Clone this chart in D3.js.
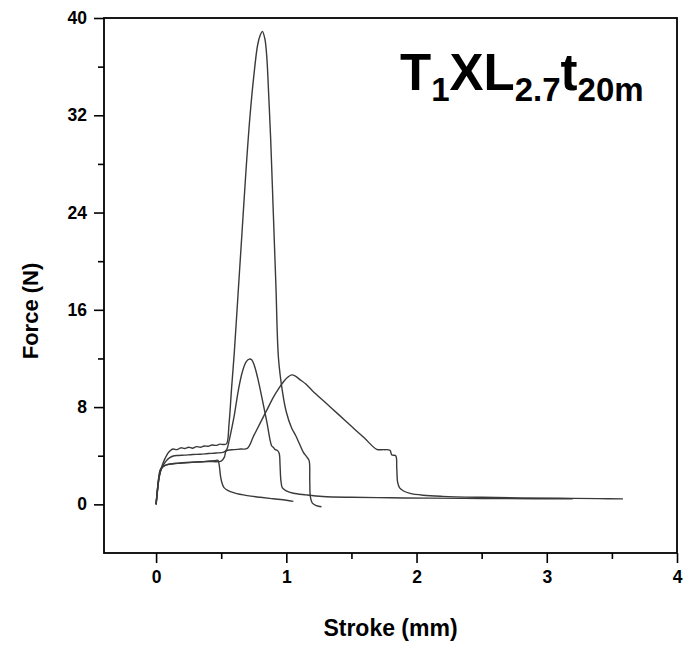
<!DOCTYPE html>
<html>
<head>
<meta charset="utf-8">
<script src="https://cdn.jsdelivr.net/npm/d3@7"></script>
<style>
  html, body { margin: 0; padding: 0; background: #fff; }
  svg { display: block; }
  text { font-family: "Liberation Sans", Arial, sans-serif; font-weight: bold; fill: #000; }
</style>
</head>
<body>
<svg id="chart" width="685" height="649"></svg>
<script>
// ---- data ----
const xMajorTicks = [0, 1, 2, 3, 4];
const xMinorTicks = [0.5, 1.5, 2.5, 3.5];
const yMajorTicks = [0, 8, 16, 24, 32, 40];
const yMinorTicks = [4, 12, 20, 28, 36];
const xLabel = "Stroke (mm)";
const yLabel = "Force (N)";

// curve A: plateau then early drop
const strokeA = [0, 0.01, 0.02, 0.03, 0.045, 0.06, 0.08, 0.1, 0.15, 0.2, 0.25, 0.3, 0.35, 0.4, 0.45, 0.475, 0.485, 0.495, 0.505, 0.52, 0.55, 0.6, 0.7, 0.8, 0.9, 1.0, 1.054];
const forceA  = [0, 1.2, 2.2, 2.8, 3.05, 3.15, 3.25, 3.3, 3.35, 3.4, 3.43, 3.47, 3.5, 3.55, 3.6, 3.62, 3.2, 2.3, 1.8, 1.4, 1.15, 0.95, 0.72, 0.58, 0.46, 0.34, 0.25];

// curve B: tall peak (~39 N)
const strokeB = [0, 0.01, 0.02, 0.035, 0.05, 0.07, 0.09, 0.107, 0.13, 0.16, 0.19, 0.22, 0.25, 0.28, 0.31, 0.34, 0.37, 0.40, 0.43, 0.46, 0.49, 0.52, 0.542, 0.56, 0.58, 0.6, 0.63, 0.66, 0.69, 0.72, 0.75, 0.78, 0.8, 0.816, 0.835, 0.85, 0.865, 0.88, 0.9, 0.92, 0.94, 0.97, 1.0, 1.04, 1.07, 1.1, 1.13, 1.157, 1.175, 1.18, 1.185, 1.2, 1.23, 1.27];
const forceB  = [0, 1.0, 2.0, 2.8, 3.3, 3.8, 4.2, 4.4, 4.55, 4.5, 4.65, 4.6, 4.7, 4.62, 4.75, 4.7, 4.8, 4.78, 4.88, 4.85, 4.95, 4.92, 5.0, 6.6, 9.6, 12.4, 17.4, 22.4, 27.4, 31.8, 35.2, 37.8, 38.6, 38.9, 38.3, 36.8, 33.6, 30.0, 24.0, 18.0, 12.0, 9.3, 7.6, 6.3, 5.7, 5.0, 4.3, 3.9, 3.6, 2.0, 0.6, 0.1, -0.1, -0.2];

// curve C: medium peak (~12 N)
const strokeC = [0, 0.012, 0.025, 0.04, 0.06, 0.08, 0.1, 0.132, 0.17, 0.22, 0.28, 0.34, 0.4, 0.46, 0.52, 0.542, 0.56, 0.58, 0.6, 0.632, 0.66, 0.69, 0.715, 0.734, 0.755, 0.78, 0.811, 0.85, 0.888, 0.9, 0.915, 0.93, 0.945, 0.952, 0.958, 0.97, 1.0, 1.054, 1.15, 1.28, 1.5, 1.8, 2.1, 2.5, 2.9, 3.2];
const forceC  = [0, 1.3, 2.3, 2.9, 3.3, 3.6, 3.8, 3.98, 4.02, 4.05, 4.1, 4.12, 4.18, 4.22, 4.3, 4.5, 5.2, 6.2, 7.3, 9.4, 10.8, 11.7, 11.95, 11.9, 11.4, 10.4, 8.86, 6.8, 4.8, 4.7, 4.5, 4.45, 4.2, 3.2, 2.0, 1.35, 1.1, 0.91, 0.78, 0.65, 0.58, 0.54, 0.51, 0.48, 0.46, 0.45];

// curve D: broad peak (~10.7 N) and long tail
const strokeD = [0, 0.012, 0.025, 0.04, 0.06, 0.08, 0.1, 0.15, 0.2, 0.3, 0.4, 0.5, 0.525, 0.535, 0.55, 0.6, 0.65, 0.7, 0.75, 0.8, 0.86, 0.9, 0.94, 0.98, 1.01, 1.04, 1.07, 1.1, 1.15, 1.2, 1.3, 1.4, 1.5, 1.6, 1.694, 1.75, 1.796, 1.81, 1.84, 1.848, 1.855, 1.87, 1.9, 1.95, 2.05, 2.2, 2.5, 2.8, 3.1, 3.4, 3.585];
const forceD  = [0, 1.4, 2.4, 2.9, 3.15, 3.25, 3.3, 3.38, 3.42, 3.48, 3.52, 3.56, 3.9, 4.35, 4.45, 4.5, 4.55, 4.6, 5.65, 6.7, 7.96, 8.8, 9.5, 10.1, 10.45, 10.65, 10.55, 10.3, 9.9, 9.35, 8.37, 7.4, 6.42, 5.45, 4.53, 4.5, 4.45, 4.06, 4.0, 3.0, 1.8, 1.35, 1.1, 0.9, 0.75, 0.66, 0.58, 0.53, 0.5, 0.47, 0.45];

const curves = [[strokeA, forceA], [strokeB, forceB], [strokeC, forceC], [strokeD, forceD]];

// ---- drawing ----
const svg = d3.select("#chart");
const x = d3.scaleLinear().domain([-0.4, 4]).range([104, 677]);
const y = d3.scaleLinear().domain([-4, 40]).range([553, 18]);

const line = d3.line().x(p => x(p[0])).y(p => y(p[1])).curve(d3.curveCatmullRom.alpha(0.5));

svg.append("g").selectAll("path")
  .data(curves.map(([s, f]) => s.map((v, i) => [v, f[i]])))
  .join("path")
  .attr("d", line)
  .attr("fill", "none")
  .attr("stroke", "#3a3a3a")
  .attr("stroke-width", 1.4)
  .attr("stroke-linejoin", "round");

// axes
const fmt = d3.format("d");
const bottomMajor = svg.append("g").attr("transform", `translate(0,${y(-4)})`)
  .call(d3.axisBottom(x).tickValues(xMajorTicks).tickSize(10).tickPadding(8).tickFormat(fmt));
const bottomMinor = svg.append("g").attr("transform", `translate(0,${y(-4)})`)
  .call(d3.axisBottom(x).tickValues(xMinorTicks).tickSize(6).tickFormat(""));
const leftMajor = svg.append("g").attr("transform", `translate(${x(-0.4)},0)`)
  .call(d3.axisLeft(y).tickValues(yMajorTicks).tickSize(10).tickPadding(7).tickFormat(fmt));
const leftMinor = svg.append("g").attr("transform", `translate(${x(-0.4)},0)`)
  .call(d3.axisLeft(y).tickValues(yMinorTicks).tickSize(6).tickFormat(""));

[bottomMajor, bottomMinor, leftMajor, leftMinor].forEach(g => {
  g.select(".domain").remove();
  g.selectAll(".tick line").attr("stroke", "#000").attr("stroke-width", 1.6);
  g.selectAll(".tick text")
    .attr("font-family", "'Liberation Sans', Arial, sans-serif")
    .attr("font-weight", "bold").attr("font-size", 17.5).attr("fill", "#000");
});

// frame
svg.append("rect")
  .attr("x", x(-0.4)).attr("y", y(40))
  .attr("width", x(4) - x(-0.4)).attr("height", y(-4) - y(40))
  .attr("fill", "none").attr("stroke", "#000").attr("stroke-width", 1.8);

// axis titles
svg.append("text")
  .attr("x", (x(-0.4) + x(4)) / 2).attr("y", 636)
  .attr("text-anchor", "middle").attr("font-size", 23)
  .text(xLabel);
svg.append("text")
  .attr("transform", `translate(38,311) rotate(-90)`)
  .attr("text-anchor", "middle").attr("font-size", 22)
  .text(yLabel);

// sample title with subscripts
const title = svg.append("text").attr("x", 400).attr("y", 90).attr("font-size", 51);
const titleParts = [["T", false], ["1", true], ["XL", false], ["2.7", true], ["t", false], ["20m", true]];
let sub = false;
titleParts.forEach(([t, isSub]) => {
  const ts = title.append("tspan").text(t);
  if (isSub) ts.attr("font-size", 33);
  if (isSub !== sub) ts.attr("dy", isSub ? 11 : -11);
  sub = isSub;
});
</script>
</body>
</html>
